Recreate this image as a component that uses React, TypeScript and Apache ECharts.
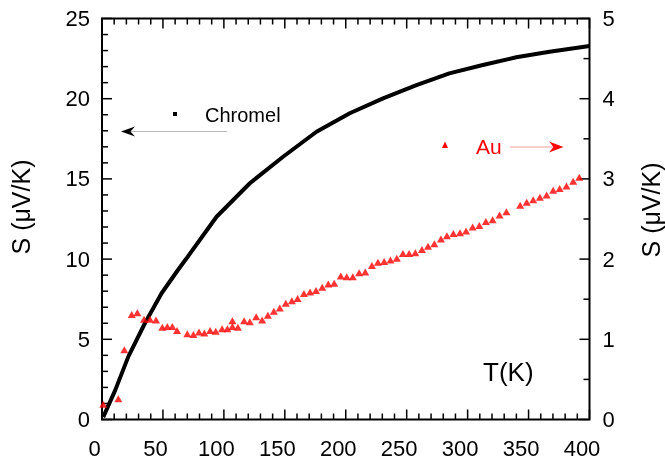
import React, { useEffect, useRef } from "react";
import * as echarts from "echarts";

// Chromel (left axis, µV/K)
const chromelT = [1, 10.7, 21.6, 35.2, 48.9, 62.3, 69.4, 94.0, 121.3, 148.6, 176.0, 203.3, 230.6, 258.0, 285.0, 312.5, 339.9, 367.2, 400];
const chromelS = [0.15, 1.8, 3.92, 6.0, 7.87, 9.32, 10.05, 12.64, 14.73, 16.38, 17.94, 19.09, 20.02, 20.85, 21.58, 22.10, 22.58, 22.93, 23.29];

// Au (right axis, µV/K)
const auT = [1, 13.4, 18.3, 24.4, 29.0, 34.5, 39.4, 44.3, 49.5, 53.6, 57.7, 61.6, 70.0, 75.0, 79.6, 84.0, 88.7, 93.3, 98.5, 102.9,
  107.0, 107.0, 111.5, 116.6, 121.3, 126.5, 131.4, 136.1, 141.0, 145.9, 150.8, 155.8, 160.5, 165.7, 170.7, 175.6, 180.7, 185.7, 190.5, 195.9,
  200.8, 205.8, 211.0, 216.0, 221.5, 226.4, 231.5, 236.7, 241.9, 246.9, 252.0, 257.1, 262.5, 267.5, 272.7, 278.1, 283.0, 288.3, 293.7, 298.7,
  304.1, 309.6, 315.0, 320.5, 326.2, 331.8, 343.1, 348.5, 353.8, 359.3, 364.8, 370.2, 375.5, 381.1, 386.6, 391.6];
const auS = [0.19, 0.26, 0.87, 1.31, 1.33, 1.25, 1.25, 1.24, 1.15, 1.16, 1.16, 1.11, 1.07, 1.06, 1.09, 1.08, 1.11, 1.10, 1.13, 1.13,
  1.23, 1.16, 1.15, 1.23, 1.22, 1.28, 1.24, 1.30, 1.35, 1.39, 1.45, 1.48, 1.51, 1.57, 1.59, 1.61, 1.65, 1.69, 1.70, 1.79,
  1.78, 1.78, 1.83, 1.84, 1.92, 1.96, 1.97, 1.99, 2.01, 2.07, 2.07, 2.08, 2.12, 2.16, 2.19, 2.25, 2.29, 2.32, 2.33, 2.35,
  2.40, 2.42, 2.47, 2.49, 2.55, 2.59, 2.67, 2.71, 2.74, 2.77, 2.80, 2.86, 2.88, 2.91, 2.97, 3.02];

const yTitle = "S (μV/K)";
const xTitle = "T(K)";
const legendNames = ["Chromel", "Au"];

// axis ranges and tick steps
const xRange = [0, 400], xMajor = 50, xMinor = 10;
const yLRange = [0, 25], yLMajor = 5, yLMinor = 1;
const yRRange = [0, 5], yRMajor = 1, yRMinor = 0.5;

const FONT = "'Liberation Sans', Arial, Helvetica, sans-serif";
const GRID = { left: 102, right: 75.5, top: 18.5, bottom: 46.5 };
const W = 665, H = 466;

function ticksOf(range: number[], minor: number) {
  const out: number[] = [];
  const n = Math.round((range[1] - range[0]) / minor);
  for (let i = 0; i <= n; i++) out.push(range[0] + i * minor);
  return out;
}
const isMajor = (v: number, major: number) => Math.abs(v / major - Math.round(v / major)) < 1e-6;

export default function App() {
  const ref = useRef<HTMLDivElement>(null);
  useEffect(() => {
    if (!ref.current) return;
    const chart = echarts.init(ref.current, undefined, { renderer: "svg" });
    const lbl = (extra: any) => ({ show: true, color: "#000", fontSize: 22, fontFamily: FONT, ...extra });
    const quiet = { axisLine: { show: false, onZero: false }, axisTick: { show: false }, minorTick: { show: false }, splitLine: { show: false } };
    const legendGraphics: any[] = [
      { type: "text", x: 21, y: 207, rotation: Math.PI / 2,
        style: { text: yTitle, fontSize: 25, fontFamily: FONT, fill: "#000", align: "center", verticalAlign: "middle" } },
      { type: "text", x: 651, y: 210, rotation: Math.PI / 2,
        style: { text: yTitle, fontSize: 25, fontFamily: FONT, fill: "#000", align: "center", verticalAlign: "middle" } },
      { type: "text", x: 483, y: 372,
        style: { text: xTitle, fontSize: 26, fontFamily: FONT, fill: "#000", align: "left", verticalAlign: "middle" } },
      { type: "rect", shape: { x: 173, y: 112, width: 4, height: 4 }, style: { fill: "#000" } },
      { type: "text", x: 205, y: 115,
        style: { text: legendNames[0], fontSize: 20, fontFamily: FONT, fill: "#000", align: "left", verticalAlign: "middle" } },
      { type: "line", shape: { x1: 227, y1: 131.5, x2: 128, y2: 131.5 }, style: { stroke: "#bbbbbb", lineWidth: 1 } },
      { type: "polygon", shape: { points: [[121, 131.5], [135, 126.5], [130.5, 131.5], [135, 136.5]] }, style: { fill: "#000" } },
      { type: "polygon", shape: { points: [[445, 141.5], [448, 148], [442, 148]] }, style: { fill: "#ff0000" } },
      { type: "text", x: 476, y: 146,
        style: { text: legendNames[1], fontSize: 21, fontFamily: FONT, fill: "#ff0000", align: "left", verticalAlign: "middle" } },
      { type: "line", shape: { x1: 510, y1: 147, x2: 555, y2: 147 }, style: { stroke: "#ff9c9c", lineWidth: 1 } },
      { type: "polygon", shape: { points: [[563.5, 147], [549, 141.5], [553.5, 147], [549, 152.5]] }, style: { fill: "#ff0000" } },
    ];
    const option: any = {
      animation: false,
      grid: [{ ...GRID }, { ...GRID }],
      xAxis: [
        { type: "value", gridIndex: 0, min: xRange[0], max: xRange[1], interval: xMajor, position: "bottom",
          ...quiet, axisLabel: lbl({ margin: 18, padding: [0, 15, 0, 0] }) },
        { type: "value", gridIndex: 1, min: xRange[0], max: xRange[1], interval: xMajor, position: "top",
          ...quiet, axisLabel: { show: false } },
      ],
      yAxis: [
        { type: "value", gridIndex: 0, min: yLRange[0], max: yLRange[1], interval: yLMajor, position: "left",
          ...quiet, axisLabel: lbl({ margin: 12 }) },
        { type: "value", gridIndex: 1, min: yRRange[0], max: yRRange[1], interval: yRMajor, position: "right",
          ...quiet, axisLabel: lbl({ margin: 13 }) },
      ],
      series: [
        {
          name: legendNames[0], type: "line", xAxisIndex: 0, yAxisIndex: 0,
          data: chromelT.map((t, i) => [t, chromelS[i]]),
          showSymbol: false, symbol: "none", smooth: false,
          lineStyle: { color: "#000", width: 4 }, z: 2,
        },
        {
          name: legendNames[1], type: "scatter", xAxisIndex: 1, yAxisIndex: 1,
          data: auT.map((t, i) => [t, auS[i]]),
          symbol: "triangle", symbolSize: [8, 7],
          itemStyle: { color: "#ff0000" }, z: 3,
        },
      ],
    };
    chart.setOption(option);

    // frame and ticks placed through the chart's own axis scales
    const conv = (finder: any, v: number, fb: number) => {
      let p: any;
      try { p = chart.convertToPixel(finder, v); } catch (e) { p = undefined; }
      return typeof p === "number" && isFinite(p) ? p : fb;
    };
    const pw = W - GRID.left - GRID.right, ph = H - GRID.top - GRID.bottom;
    const X = (v: number) => conv({ xAxisIndex: 0 }, v, GRID.left + ((v - xRange[0]) / (xRange[1] - xRange[0])) * pw);
    const YL = (v: number) => conv({ yAxisIndex: 0 }, v, GRID.top + ph - ((v - yLRange[0]) / (yLRange[1] - yLRange[0])) * ph);
    const YR = (v: number) => conv({ yAxisIndex: 1 }, v, GRID.top + ph - ((v - yRRange[0]) / (yRRange[1] - yRRange[0])) * ph);
    const left = X(xRange[0]), right = X(xRange[1]), bottom = YL(yLRange[0]), top = YL(yLRange[1]);
    const axisGraphics: any[] = [];
    const tickStyle = { stroke: "#000", lineWidth: 1.5 };
    ticksOf(xRange, xMinor).forEach((v) => {
      const len = isMajor(v, xMajor) ? 10 : 6;
      const x = X(v);
      axisGraphics.push({ type: "line", shape: { x1: x, y1: bottom, x2: x, y2: bottom - len }, style: tickStyle });
      axisGraphics.push({ type: "line", shape: { x1: x, y1: top, x2: x, y2: top + len }, style: tickStyle });
    });
    ticksOf(yLRange, yLMinor).forEach((v) => {
      const len = isMajor(v, yLMajor) ? 10 : 6;
      const y = YL(v);
      axisGraphics.push({ type: "line", shape: { x1: left, y1: y, x2: left + len, y2: y }, style: tickStyle });
    });
    ticksOf(yRRange, yRMinor).forEach((v) => {
      const len = isMajor(v, yRMajor) ? 10 : 6;
      const y = YR(v);
      axisGraphics.push({ type: "line", shape: { x1: right, y1: y, x2: right - len, y2: y }, style: tickStyle });
    });
    axisGraphics.push({ type: "rect", shape: { x: left, y: top, width: right - left, height: bottom - top },
      style: { fill: "none", stroke: "#000", lineWidth: 2 } });

    chart.setOption({ graphic: [...legendGraphics, ...axisGraphics] });
    return () => chart.dispose();
  }, []);
  return <div ref={ref} style={{ position: "fixed", left: 0, top: 0, width: W, height: H }} />;
}
